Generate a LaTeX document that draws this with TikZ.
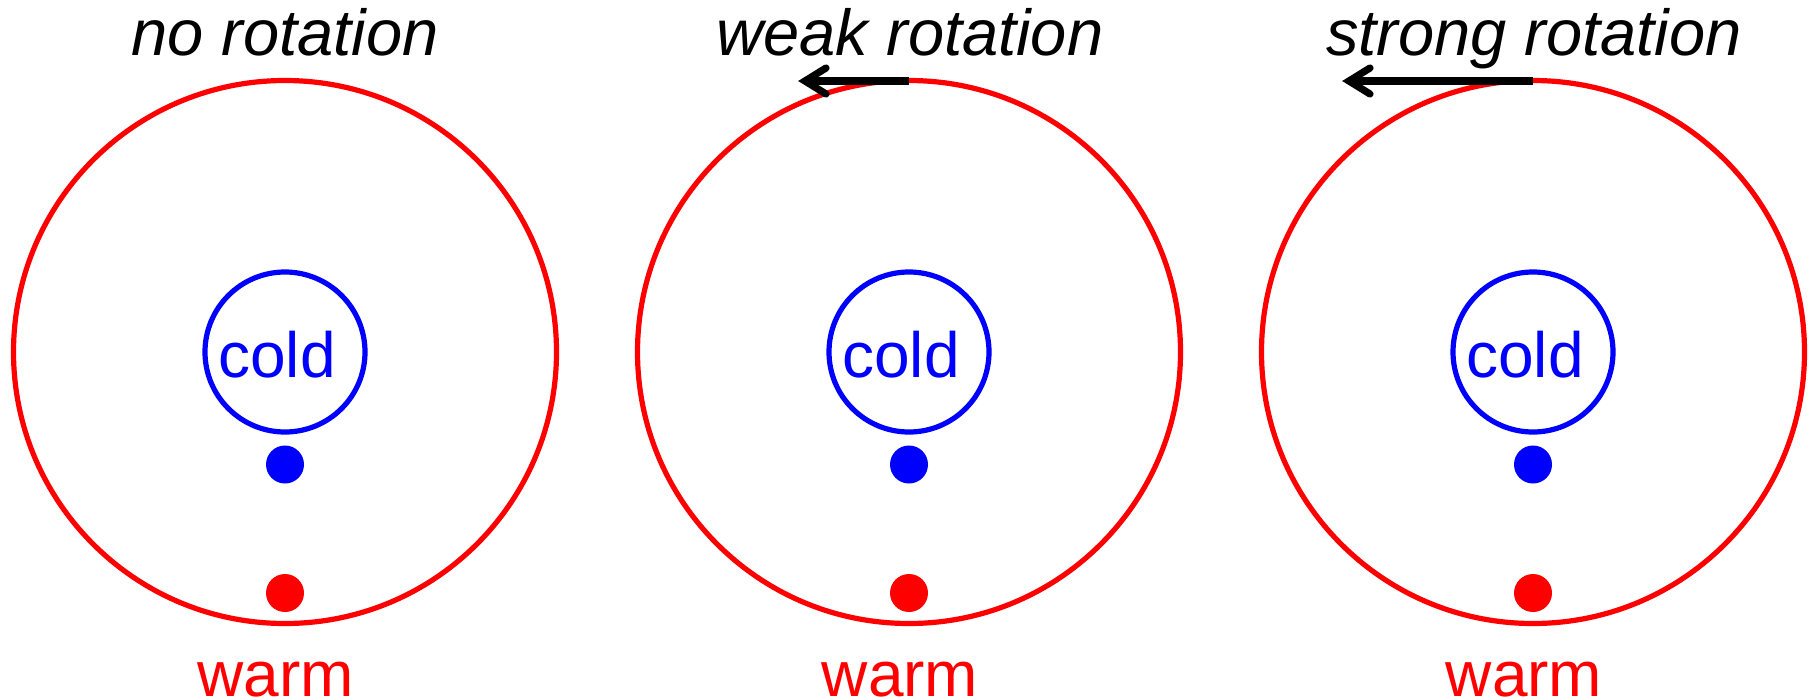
\documentclass[tikz,border=0pt]{standalone}
\usepackage{fontspec}
\setmainfont{Liberation Sans}
\begin{document}
\begin{tikzpicture}[x=1pt,y=-1pt,
  outerring/.style={draw=red, line width=5.2pt},
  innerring/.style={draw=blue, line width=5.2pt},
  titletext/.style={anchor=base, inner sep=0pt, font=\fontsize{65}{78}\selectfont\itshape, text=black},
  coldtext/.style={anchor=base, inner sep=0pt, font=\fontsize{64}{77}\selectfont, text=blue},
  warmtext/.style={anchor=base, inner sep=0pt, font=\fontsize{64}{77}\selectfont, text=red},
  rotline/.style={draw=black, line width=7.2pt, line cap=butt},
  rothead/.style={draw=black, line width=7.2pt, line cap=round, line join=miter, miter limit=10}]
\useasboundingbox (0,0) rectangle (1812,699);
% centres
\coordinate (c1) at (285,352);
\coordinate (c2) at (909,352);
\coordinate (c3) at (1533,352);
% panel 1
\draw[outerring] (c1) circle[radius=271.5];
\draw[innerring] (c1) circle[radius=80];
\fill[blue] (285,464.5) circle[radius=19];
\fill[red] (285,593) circle[radius=19];
\node[titletext] (t1) at (285,55) {no rotation};
\node[coldtext] (k1) at (277,377) {cold};
\node[warmtext] (w1) at (276,696.5) {warm};
% panel 2
\draw[outerring] (c2) circle[radius=271.5];
\draw[innerring] (c2) circle[radius=80];
\fill[blue] (909,464.5) circle[radius=19];
\fill[red] (909,593) circle[radius=19];
\node[titletext] (t2) at (910,55) {weak rotation};
\node[coldtext] (k2) at (901,377) {cold};
\node[warmtext] (w2) at (900,696.5) {warm};
\coordinate (s2) at (909,81);
\coordinate (p2) at (805,81);
\coordinate (u2) at (826,68);
\coordinate (d2) at (826,94);
\draw[rotline] (s2) -- ([xshift=3pt]p2);
\draw[rothead] (u2) -- (p2) -- (d2);
% panel 3
\draw[outerring] (c3) circle[radius=271.5];
\draw[innerring] (c3) circle[radius=80];
\fill[blue] (1533,464.5) circle[radius=19];
\fill[red] (1533,593) circle[radius=19];
\node[titletext] (t3) at (1534,55) {strong rotation};
\node[coldtext] (k3) at (1525,377) {cold};
\node[warmtext] (w3) at (1524,696.5) {warm};
\coordinate (s3) at (1533,81);
\coordinate (p3) at (1349,81);
\coordinate (u3) at (1370,68);
\coordinate (d3) at (1370,94);
\draw[rotline] (s3) -- ([xshift=3pt]p3);
\draw[rothead] (u3) -- (p3) -- (d3);
\end{tikzpicture}
\end{document}
